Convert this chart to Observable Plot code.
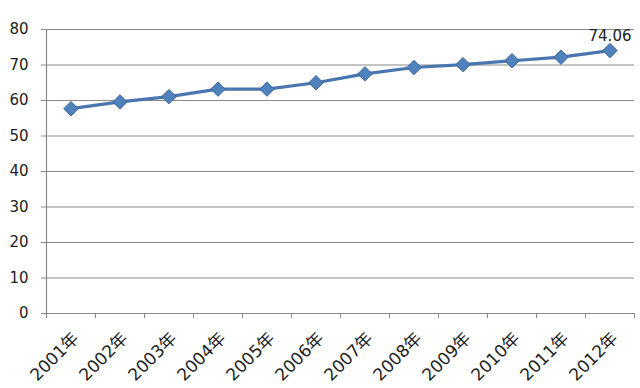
<!DOCTYPE html>
<html>
<head>
<meta charset="utf-8">
<script src="https://cdn.jsdelivr.net/npm/d3@7"></script>
<script src="https://cdn.jsdelivr.net/npm/@observablehq/plot@0.6"></script>
<style>
  html, body { margin: 0; padding: 0; background: #fff; }
  svg { display: block; }
</style>
</head>
<body>
<div id="chart"></div>
<script>
const years = ["2001","2002","2003","2004","2005","2006","2007","2008","2009","2010","2011","2012"];
const values = [57.7, 59.6, 61.1, 63.2, 63.2, 65.0, 67.5, 69.3, 70.1, 71.2, 72.2, 74.06];
const yTicks = [0, 10, 20, 30, 40, 50, 60, 70, 80];
const labelText = "74.06";

const data = years.map((y, i) => ({year: y, pos: i + 0.5, value: values[i]}));
const boundaries = d3.range(0, years.length + 1);
const centers = data.map(d => d.pos);

const chart = Plot.plot({
  width: 640,
  height: 388,
  marginLeft: 46,
  marginRight: 6,
  marginTop: 29,
  marginBottom: 75,
  style: {fontFamily: "'DejaVu Sans', 'Noto Sans CJK SC', sans-serif", fontSize: "15px", color: "#222", background: "#fff"},
  x: {type: "linear", domain: [0, years.length], axis: null, label: null},
  y: {domain: [0, 80], axis: null, label: null},
  marks: [
    Plot.ruleY(yTicks, {stroke: "#8a8a8a", strokeWidth: 1.2}),
    Plot.ruleX([0], {y1: 0, y2: 80, stroke: "#8a8a8a", strokeWidth: 1.2}),
    Plot.axisY({ticks: yTicks, tickSize: 5, tickPadding: 13, label: null, stroke: "#8a8a8a", fontSize: 15, fill: "#222"}),
    Plot.axisX({ticks: boundaries, tickSize: 5, label: null, tickFormat: () => "", stroke: "#8a8a8a"}),
    Plot.axisX({ticks: centers, tickSize: 0, tickPadding: 22, dx: 5, label: null, tickRotate: -45, fontSize: 17, fill: "#222",
      tickFormat: v => years[Math.round(v - 0.5)] + "年"}),
    Plot.line(data, {x: "pos", y: "value", stroke: "#4a76b0", strokeWidth: 3.2}),
    Plot.dot(data, {x: "pos", y: "value", symbol: "diamond2", r: 6.5, fill: "#4f81bd", stroke: "#3d6596", strokeWidth: 1}),
    Plot.text(data.slice(-1), {x: "pos", y: "value", text: () => labelText, dy: -14, fontSize: 15, fill: "#222"})
  ]
});
document.getElementById("chart").appendChild(chart);
</script>
</body>
</html>
